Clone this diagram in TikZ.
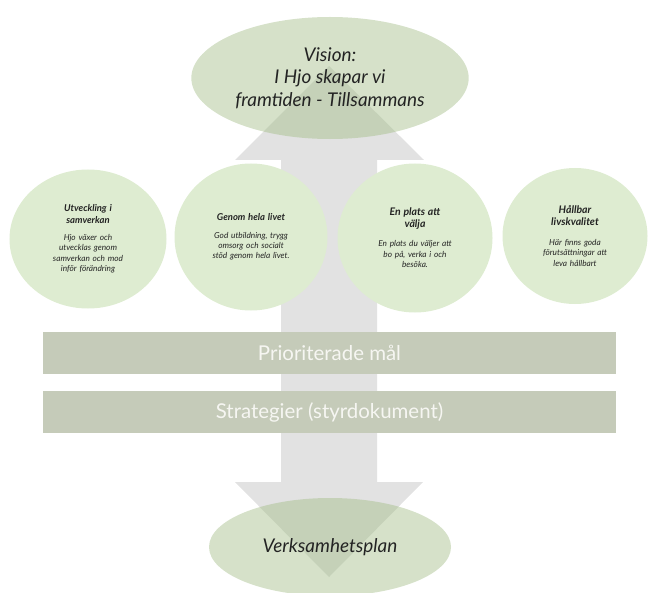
\documentclass[tikz,border=0pt]{standalone}
\usepackage{fontspec}
\setmainfont{Lato}
\usetikzlibrary{shapes.geometric, positioning}
\definecolor{arrowgray}{RGB}{226, 226, 226}
\definecolor{visiongreen}{RGB}{163, 189, 135}
\definecolor{goalgreen}{RGB}{222, 236, 209}
\definecolor{barsage}{RGB}{197, 203, 185}
\definecolor{bartext}{RGB}{246, 246, 242}
\definecolor{inkdark}{RGB}{35, 35, 35}
\newcommand{\goaltitle}{\fontsize{9.5}{11.5}\selectfont\bfseries\itshape}
\newcommand{\goalbody}{\fontsize{8.3}{10.5}\selectfont\itshape}

\begin{document}
\begin{tikzpicture}[x=1bp, y=-1bp,
  visionshape/.style={ellipse, fill=visiongreen, fill opacity=0.45, text opacity=1, text=inkdark, align=center, font=\fontsize{19}{22.5}\selectfont\itshape},
  goalcircle/.style={ellipse, fill=goalgreen, text=inkdark, text width=96bp, align=center, inner sep=0pt, font=\goalbody},
  barbox/.style={rectangle, fill=barsage, text=bartext, minimum width=573bp, minimum height=42bp, font=\fontsize{20.5}{22}\selectfont}]
\useasboundingbox (0,0) rectangle (648,593);

% Big double arrow in the background
\fill[arrowgray] (329,66) -- (424,160) -- (377,160) -- (377,482) -- (423,482) -- (329,577)
  -- (235,482) -- (281,482) -- (281,160) -- (235,160) -- cycle;

% Vision on top
\node[visionshape, minimum width=276bp, minimum height=122bp] (vision) at (330,78) {Vision:\\I Hjo skapar vi\\framtiden - Tillsammans};

% Four goal circles
\node[goalcircle, minimum width=157bp, minimum height=139bp] (utveckling) at (88,239)
  {{\goaltitle Utveckling i\\samverkan\par}\vspace{7bp}Hjo växer och\\utvecklas genom\\samverkan och mod\\inför förändring};
\node[goalcircle, minimum width=153bp, minimum height=147bp] (genom) at (251,237)
  {{\goaltitle Genom hela livet\par}\vspace{7bp}God utbildning, trygg\\omsorg och socialt\\stöd genom hela livet.};
\node[goalcircle, minimum width=155bp, minimum height=149bp] (plats) at (415,238)
  {{\goaltitle\fontsize{10.5}{11.5}\selectfont En plats att\\välja\par}\vspace{9bp}En plats du väljer att\\bo på, verka i och\\besöka.};
\node[goalcircle, minimum width=145bp, minimum height=136bp] (hallbar) at (575,236)
  {{\goaltitle\fontsize{10.5}{12}\selectfont Hållbar\\livskvalitet\par}\vspace{9bp}Här finns goda\\förutsättningar att\\leva hållbart};

% Bars across the arrow
\node[barbox] (mal) at (329.5,353) {Prioriterade mål};
\node[barbox] (strategier) at (329.5,412) {Strategier (styrdokument)};

% Plan at the bottom
\node[visionshape, minimum width=242bp, minimum height=98bp] (plan) at (330,547) {Verksamhetsplan};
\end{tikzpicture}
\end{document}
